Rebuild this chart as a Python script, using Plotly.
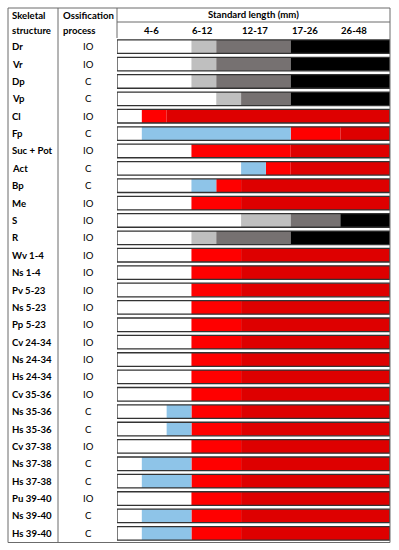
import plotly.graph_objects as go

# ---------------- data ----------------
structures = ["Dr", "Vr", "Dp", "Vp", "Cl", "Fp", "Suc + Pot", "Act", "Bp", "Me", "S", "R",
              "Wv 1-4", "Ns 1-4", "Pv 5-23", "Ns 5-23", "Pp 5-23", "Cv 24-34", "Ns 24-34",
              "Hs 24-34", "Cv 35-36", "Ns 35-36", "Hs 35-36", "Cv 37-38", "Ns 37-38",
              "Hs 37-38", "Pu 39-40", "Ns 39-40", "Hs 39-40"]
processes = ["IO", "IO", "C", "C", "IO", "C", "IO", "C", "C", "IO", "IO", "IO",
             "IO", "IO", "IO", "IO", "IO", "IO", "IO", "IO", "IO", "C", "C", "IO", "C",
             "C", "IO", "C", "C"]
size_classes = ["4-6", "6-12", "12-17", "17-26", "26-48"]
size_class_pos = [1.37, 3.46, 5.56, 7.57, 9.55]
scale_max = 11

# state sequence and end points (in stage units) of each row
seg_states = [
    ["W", "L", "G", "K"], ["W", "L", "G", "K"], ["W", "L", "G", "K"], ["W", "L", "G", "K"],
    ["W", "R", "D"], ["W", "B", "R", "D"], ["W", "R", "D"], ["W", "B", "R", "D"],
    ["W", "B", "R", "D"], ["W", "R", "D"], ["W", "L", "G", "K"], ["W", "L", "G", "K"],
    ["W", "R", "D"], ["W", "R", "D"], ["W", "R", "D"], ["W", "R", "D"], ["W", "R", "D"],
    ["W", "R", "D"], ["W", "R", "D"], ["W", "R", "D"], ["W", "R", "D"],
    ["W", "B", "R", "D"], ["W", "B", "R", "D"], ["W", "R", "D"],
    ["W", "B", "R", "D"], ["W", "B", "R", "D"], ["W", "R", "D"],
    ["W", "B", "R", "D"], ["W", "B", "R", "D"],
]
seg_ends = [
    [3, 4, 7, 11], [3, 4, 7, 11], [3, 4, 7, 11], [4, 5, 7, 11],
    [1, 2, 11], [1, 7, 9, 11], [3, 7, 11], [5, 6, 7, 11],
    [3, 4, 5, 11], [3, 5, 11], [5, 7, 9, 11], [3, 4, 7, 11],
    [3, 5, 11], [3, 5, 11], [3, 5, 11], [3, 5, 11], [3, 5, 11],
    [3, 5, 11], [3, 5, 11], [3, 5, 11], [3, 5, 11],
    [2, 3, 5, 11], [2, 3, 5, 11], [3, 5, 11],
    [1, 3, 5, 11], [1, 3, 5, 11], [3, 5, 11],
    [1, 3, 5, 11], [1, 3, 5, 11],
]

# ---------------- styling ----------------
state_colors = {"W": "#FFFFFF", "L": "#BFBFBF", "G": "#767171", "K": "#000000",
                "R": "#FF0000", "D": "#DE0000", "B": "#8EC4E8"}
W, H = 399, 550
FONT = "Lato, 'Liberation Sans', Arial, sans-serif"
FS = 9.6
BAR_W = 0.78


def px(x):
    return x / W


def py(y):
    return 1 - y / H


fig = go.Figure()

n = len(structures)
rows = list(range(n))
for key, color in state_colors.items():
    ys, bases, widths = [], [], []
    for i in rows:
        start = 0
        for st, end in zip(seg_states[i], seg_ends[i]):
            if st == key:
                ys.append(i)
                bases.append(start)
                widths.append(end - start)
            start = end
    if ys:
        fig.add_trace(go.Bar(y=ys, x=widths, base=bases, orientation="h",
                             marker=dict(color=color, line=dict(width=0)),
                             width=BAR_W, showlegend=False, hoverinfo="skip"))

# outline of each bar
fig.add_trace(go.Bar(y=rows, x=[scale_max] * n, base=[0] * n, orientation="h",
                     marker=dict(color="rgba(0,0,0,0)", line=dict(color="#333333", width=1.3)),
                     width=BAR_W, showlegend=False, hoverinfo="skip"))

annotations = []
for i, (s, p) in enumerate(zip(structures, processes)):
    annotations.append(dict(x=px(9.5), xref="paper", y=i, yref="y", text=s, showarrow=False,
                            xanchor="left", yanchor="middle",
                            font=dict(family=FONT, size=FS, color="black", weight="bold")))
    annotations.append(dict(x=px(88), xref="paper", y=i, yref="y", text=p, showarrow=False,
                            xanchor="center", yanchor="middle",
                            font=dict(family=FONT, size=FS, color="black")))

for lab, pos in zip(size_classes, size_class_pos):
    annotations.append(dict(x=pos, xref="x", y=py(30), yref="paper", text=lab, showarrow=False,
                            xanchor="center", yanchor="middle",
                            font=dict(family=FONT, size=FS, color="black", weight="bold")))

header = [("Skeletal", 9.5, 15.5, "left"), ("structure", 9.5, 30, "left"),
          ("Ossification", 61, 15.5, "left"), ("process", 61, 30, "left"),
          ("Standard length (mm)", 253.5, 15, "center")]
for t, x, y, anc in header:
    annotations.append(dict(x=px(x), xref="paper", y=py(y), yref="paper", text=t, showarrow=False,
                            xanchor=anc, yanchor="middle",
                            font=dict(family=FONT, size=FS, color="black", weight="bold")))

LC = "#6b6b6b"
shapes = [
    dict(type="rect", xref="paper", yref="paper", x0=px(8), x1=px(390), y0=py(8), y1=py(542.5),
         line=dict(color=LC, width=1)),
    dict(type="line", xref="paper", yref="paper", x0=px(58), x1=px(58), y0=py(8), y1=py(542.5),
         line=dict(color=LC, width=1)),
    dict(type="line", xref="paper", yref="paper", x0=px(117), x1=px(117), y0=py(8), y1=py(38),
         line=dict(color=LC, width=1)),
    dict(type="line", xref="paper", yref="paper", x0=px(117), x1=px(390), y0=py(22), y1=py(22),
         line=dict(color=LC, width=1)),
]

fig.update_layout(
    width=W, height=H, autosize=False,
    margin=dict(l=0, r=0, t=0, b=0, pad=0),
    paper_bgcolor="white", plot_bgcolor="white",
    barmode="overlay",
    xaxis=dict(domain=[px(117), px(390)], range=[0, scale_max], showgrid=False, zeroline=False,
               showticklabels=False, showline=False, fixedrange=True),
    yaxis=dict(domain=[8 / H, 1 - 38 / H], range=[n - 0.5, -0.5], showgrid=False, zeroline=False,
               showticklabels=False, showline=False, fixedrange=True),
    annotations=annotations, shapes=shapes,
)

fig.write_html("out.html", config={"displayModeBar": False},
               post_script="document.body.style.margin='0px';document.body.style.overflow='hidden';")
